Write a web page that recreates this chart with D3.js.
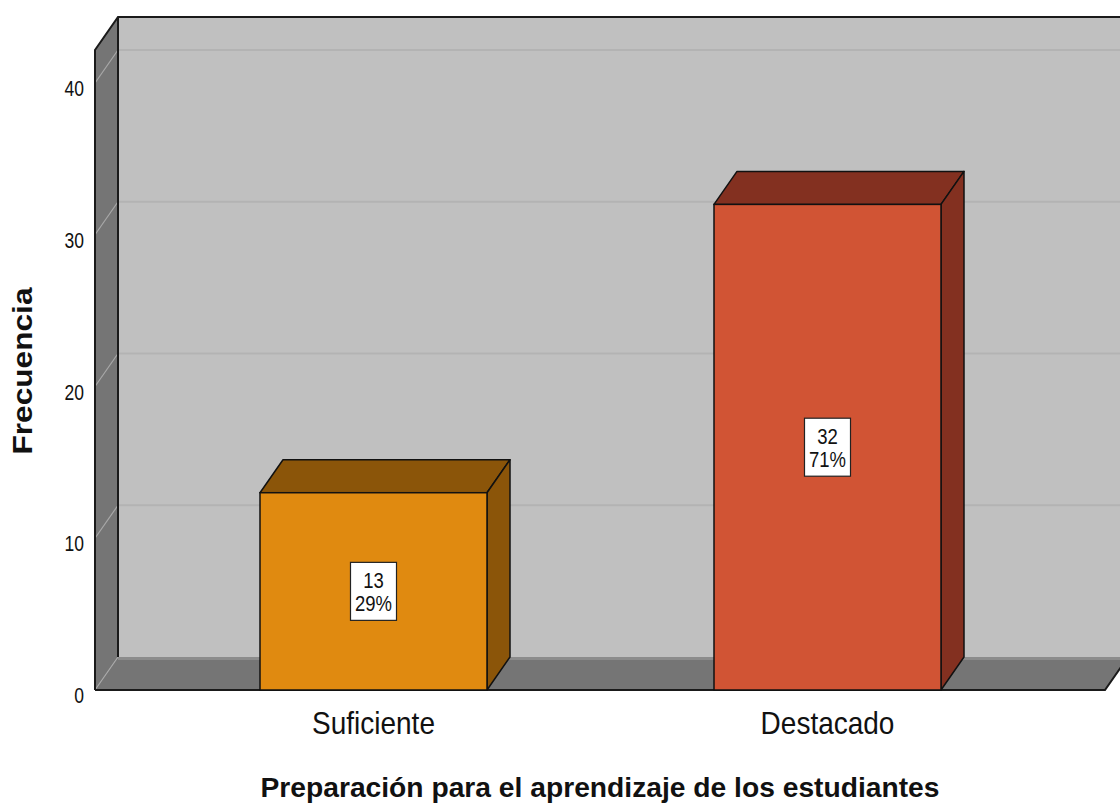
<!DOCTYPE html>
<html>
<head>
<meta charset="utf-8">
<script src="https://cdn.jsdelivr.net/npm/d3@7"></script>
<style>
  body { margin: 0; background: #fff; }
  text { font-family: "Liberation Sans", Arial, sans-serif; fill: #111; }
</style>
</head>
<body>
<div id="chart"></div>
<script>
// data
const categories = ["Suficiente", "Destacado"];
const counts = [13, 32];
const percents = ["29%", "71%"];
const yTicks = [0, 10, 20, 30, 40];
const frontColors = ["#e08a10", "#d15434"];
const darkColors = ["#8b5509", "#833020"];

const width = 1120;
const height = 803;

// 3d depth offset
const dx = 23, dy = -33;

const svg = d3.select('#chart')
    .append('svg')
    .attr('width', width)
    .attr('height', height);

const x = d3.scaleBand()
    .domain(categories)
    .range([260, 941])
    .paddingInner(0.5)
    .paddingOuter(0);

const y = d3.scaleLinear()
    .domain([0, 40])
    .range([690, 83]);

const left = 95, right = 1105;
const floorY = y(0);
const wallTop = 50; // front-equivalent top of the walls

// back wall
svg.append('rect')
    .attr('x', left + dx)
    .attr('y', wallTop + dy)
    .attr('width', right - left + 40)
    .attr('height', floorY - wallTop)
    .attr('fill', '#c0c0c0');

// grid lines on back wall
svg.append('g')
    .selectAll('line')
    .data(yTicks.filter(d => d > 0))
    .join('line')
    .attr('x1', left + dx)
    .attr('x2', width)
    .attr('y1', d => y(d) + dy)
    .attr('y2', d => y(d) + dy)
    .attr('stroke', '#b3b3b3')
    .attr('stroke-width', 2);

// left side wall
svg.append('path')
    .attr('d', `M${left},${wallTop}L${left + dx},${wallTop + dy}L${left + dx},${floorY + dy}L${left},${floorY}Z`)
    .attr('fill', '#757575');

svg.append('g')
    .selectAll('line')
    .data(yTicks.filter(d => d > 0))
    .join('line')
    .attr('x1', left)
    .attr('x2', left + dx)
    .attr('y1', d => y(d))
    .attr('y2', d => y(d) + dy)
    .attr('stroke', '#a8a8a8')
    .attr('stroke-width', 1.2);

// floor
svg.append('path')
    .attr('d', `M${left},${floorY}L${left + dx},${floorY + dy}L${right + dx},${floorY + dy}L${right},${floorY}Z`)
    .attr('fill', '#757575');
svg.append('line')
    .attr('x1', left + dx).attr('x2', right + dx)
    .attr('y1', floorY + dy + 1.5).attr('y2', floorY + dy + 1.5)
    .attr('stroke', '#8c8c8c').attr('stroke-width', 3);
svg.append('line')
    .attr('x1', left).attr('x2', left + dx)
    .attr('y1', floorY).attr('y2', floorY + dy)
    .attr('stroke', '#a8a8a8').attr('stroke-width', 1.2);

// wall outlines
svg.append('path')
    .attr('d', `M${left},${floorY}L${left},${wallTop}L${left + dx},${wallTop + dy}L${width + 5},${wallTop + dy}`)
    .attr('fill', 'none')
    .attr('stroke', '#1a1a1a')
    .attr('stroke-width', 2);
svg.append('line')
    .attr('x1', left + dx).attr('x2', left + dx)
    .attr('y1', wallTop + dy).attr('y2', floorY + dy)
    .attr('stroke', '#1a1a1a').attr('stroke-width', 2);
svg.append('path')
    .attr('d', `M${left},${floorY}L${right},${floorY}L${right + dx},${floorY + dy}`)
    .attr('fill', 'none')
    .attr('stroke', '#1a1a1a')
    .attr('stroke-width', 2);

// bars
const bars = svg.append('g')
    .selectAll('g')
    .data(categories)
    .join('g');

const bw = x.bandwidth();

bars.append('path') // top face
    .attr('d', (d, i) => {
        const x0 = x(d), yt = y(counts[i]);
        return `M${x0},${yt}L${x0 + dx},${yt + dy}L${x0 + bw + dx},${yt + dy}L${x0 + bw},${yt}Z`;
    })
    .attr('fill', (d, i) => darkColors[i])
    .attr('stroke', '#111')
    .attr('stroke-width', 1.5)
    .attr('stroke-linejoin', 'round');

bars.append('path') // right side
    .attr('d', (d, i) => {
        const x1 = x(d) + bw, yt = y(counts[i]);
        return `M${x1},${yt}L${x1 + dx},${yt + dy}L${x1 + dx},${floorY + dy}L${x1},${floorY}Z`;
    })
    .attr('fill', (d, i) => darkColors[i])
    .attr('stroke', '#111')
    .attr('stroke-width', 1.5)
    .attr('stroke-linejoin', 'round');

bars.append('rect') // front
    .attr('x', d => x(d))
    .attr('y', (d, i) => y(counts[i]))
    .attr('width', bw)
    .attr('height', (d, i) => floorY - y(counts[i]))
    .attr('fill', (d, i) => frontColors[i])
    .attr('stroke', '#111')
    .attr('stroke-width', 1.5);

// value labels
const labels = bars.append('g')
    .attr('transform', (d, i) => `translate(${x(d) + bw / 2},${(y(counts[i]) + floorY) / 2})`);

labels.append('rect')
    .attr('x', -23)
    .attr('y', -29)
    .attr('width', 46)
    .attr('height', 58)
    .attr('fill', '#fff')
    .attr('stroke', '#222')
    .attr('stroke-width', 1.2);

labels.append('text')
    .attr('text-anchor', 'middle')
    .attr('transform', 'translate(0,-3) scale(1,1.2)')
    .attr('font-size', 18.5)
    .text((d, i) => counts[i]);

labels.append('text')
    .attr('text-anchor', 'middle')
    .attr('transform', 'translate(0,20) scale(1,1.2)')
    .attr('font-size', 18.5)
    .text((d, i) => percents[i]);

// y tick labels
svg.append('g')
    .selectAll('text')
    .data(yTicks)
    .join('text')
    .attr('transform', d => `translate(84,${y(d) + 13}) scale(1,1.25)`)
    .attr('text-anchor', 'end')
    .attr('font-size', 17.5)
    .text(d => d);

// category labels
svg.append('g')
    .selectAll('text')
    .data(categories)
    .join('text')
    .attr('transform', d => `translate(${x(d) + bw / 2},734) scale(1,1.15)`)
    .attr('text-anchor', 'middle')
    .attr('font-size', 28)
    .text(d => d);

// axis titles
svg.append('text')
    .attr('x', 600)
    .attr('y', 797)
    .attr('text-anchor', 'middle')
    .attr('font-size', 27)
    .attr('font-weight', 'bold')
    .attr('textLength', 679)
    .attr('lengthAdjust', 'spacingAndGlyphs')
    .text('Preparación para el aprendizaje de los estudiantes');

svg.append('text')
    .attr('transform', 'translate(32,371) rotate(-90)')
    .attr('text-anchor', 'middle')
    .attr('font-size', 27)
    .attr('font-weight', 'bold')
    .attr('textLength', 167)
    .attr('lengthAdjust', 'spacingAndGlyphs')
    .text('Frecuencia');
</script>
</body>
</html>
